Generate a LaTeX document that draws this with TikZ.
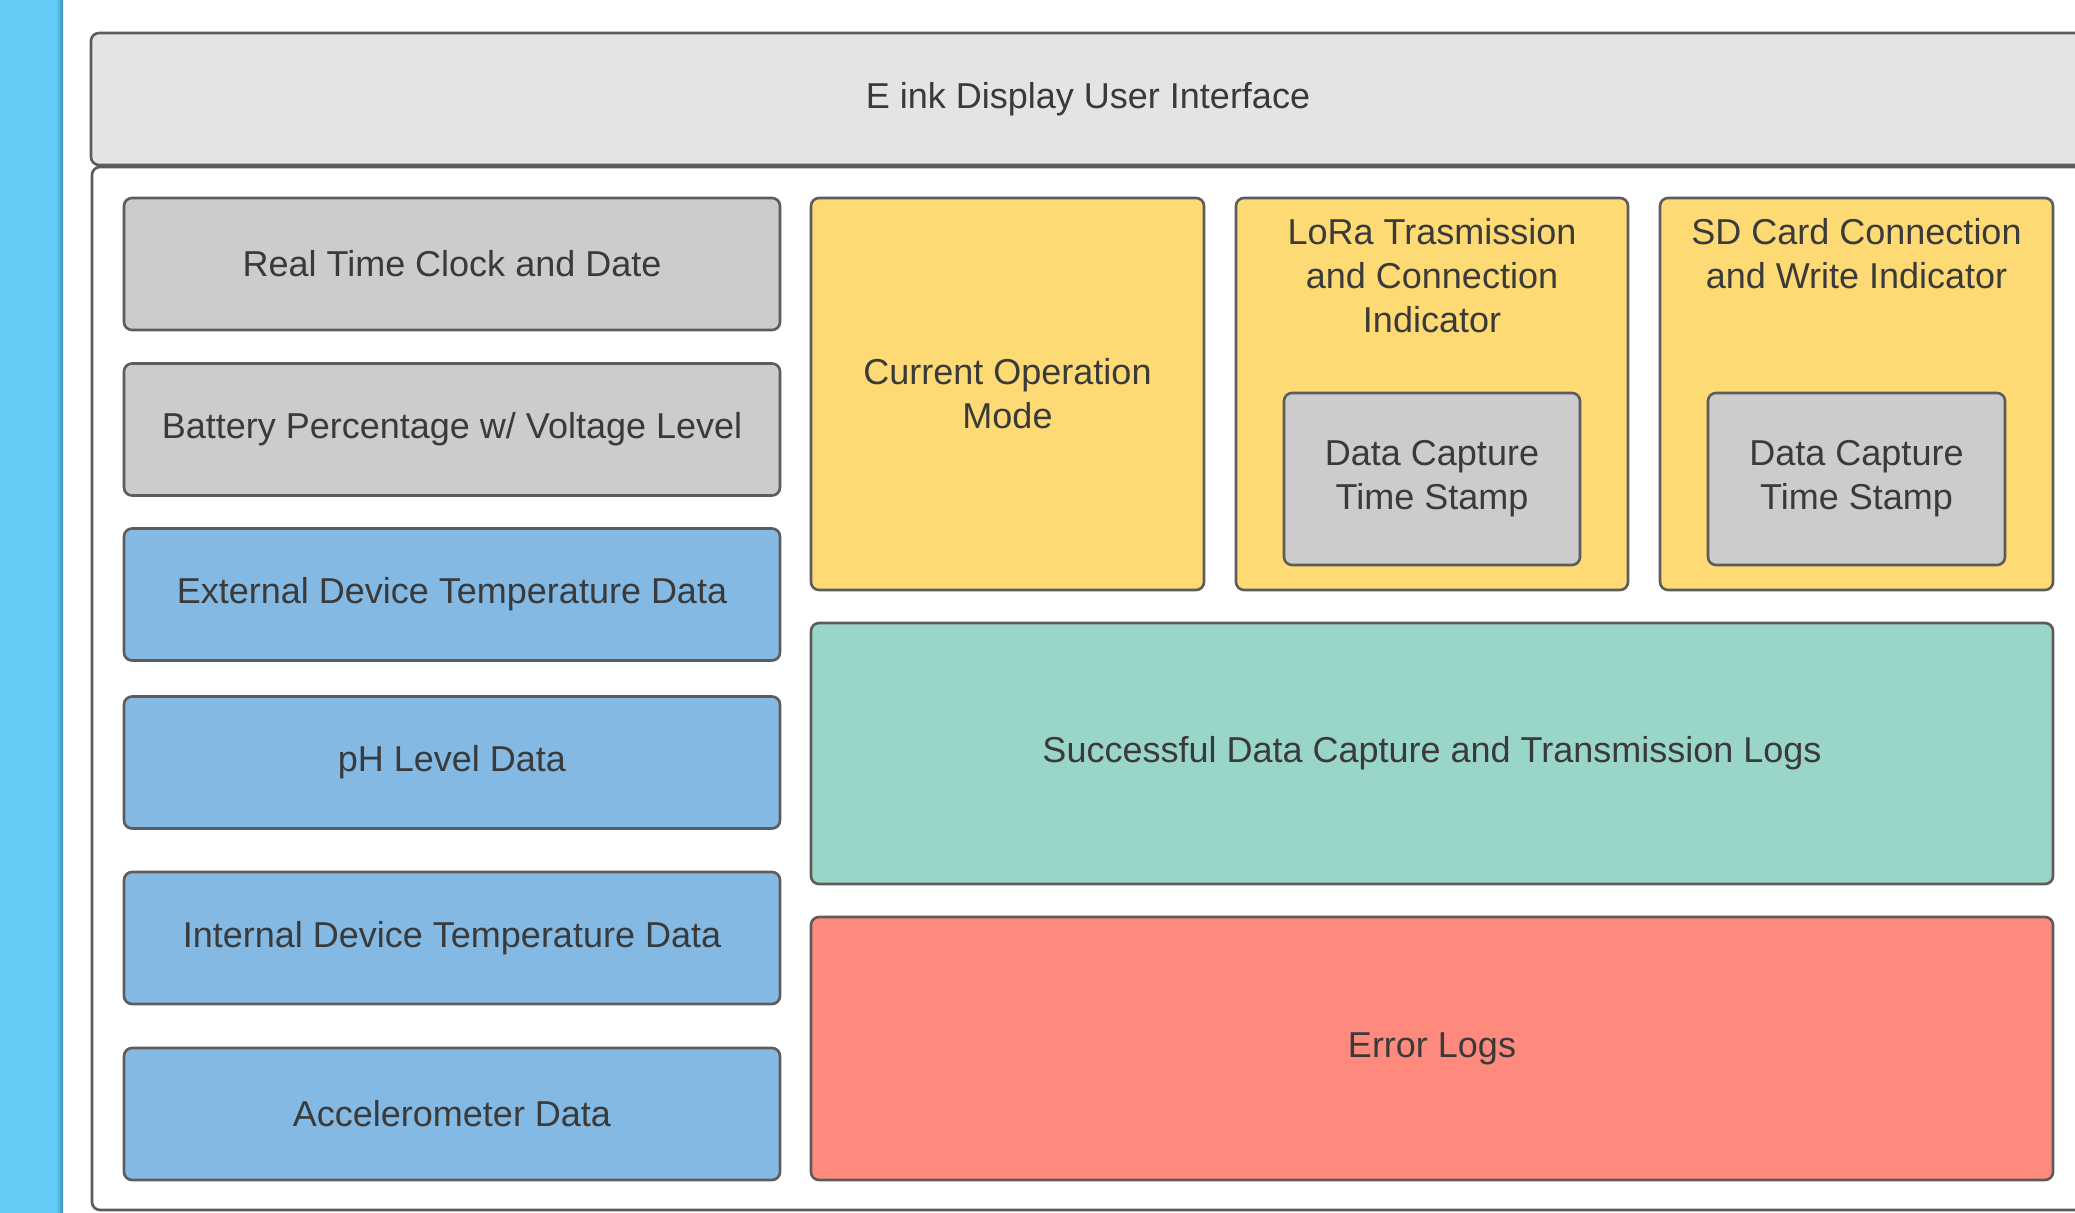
\documentclass[tikz,border=0pt]{standalone}
\usepackage{fontspec}
\setmainfont{Liberation Sans}
\definecolor{stripblue}{HTML}{62CCF6}
\definecolor{stripdark}{HTML}{3B8DB5}
\definecolor{edge}{HTML}{5C5C5C}
\definecolor{txt}{HTML}{3A3A3A}
\definecolor{barfill}{HTML}{E4E4E4}
\definecolor{greyfill}{HTML}{CCCCCC}
\definecolor{bluefill}{HTML}{83B9E3}
\definecolor{yellowfill}{HTML}{FEDA75}
\definecolor{tealfill}{HTML}{9AD5CA}
\definecolor{redfill}{HTML}{FE8A7D}
\begin{document}
\begin{tikzpicture}[x=0.5pt,y=-0.5pt,
  box/.style={draw=edge, line width=1.3pt, rounded corners=4pt, inner sep=0pt,
    text=txt, align=center, font=\fontsize{18}{22}\selectfont},
  lbl/.style={text=txt, align=center, font=\fontsize{18}{22}\selectfont, inner sep=0pt},
  greybox/.style={box, fill=greyfill},
  bluebox/.style={box, fill=bluefill},
  yellowbox/.style={box, fill=yellowfill},
  leftbox/.style={minimum width=328pt, minimum height=66pt}]
\useasboundingbox (0,0) rectangle (2075,1213);
\fill[white] (0,0) rectangle (2075,1213);
\begin{scope}
\clip (0,0) rectangle (2075,1213);
\fill[stripblue] (0,0) rectangle (63,1213);
\shade[left color=stripblue, right color=stripdark] (56,0) rectangle (63,1213);
\node[box, fill=white, minimum width=1001.5pt, minimum height=521.5pt] (frame) at (1093.5,688.5) {};
\node[box, fill=barfill, minimum width=997pt, minimum height=66pt] (bar) at (1088,99) {E ink Display User Interface};
% left column
\node[greybox, leftbox] (rtc) at (452,264) {Real Time Clock and Date};
\node[greybox, leftbox] (batt) at (452,429.5) {Battery Percentage w/ Voltage Level};
\node[bluebox, leftbox] (ext) at (452,594.5) {External Device Temperature Data};
\node[bluebox, leftbox] (ph) at (452,762.5) {pH Level Data};
\node[bluebox, leftbox] (int) at (452,938) {Internal Device Temperature Data};
\node[bluebox, leftbox] (acc) at (452,1114) {Accelerometer Data};
% right section
\node[yellowbox, minimum width=196.5pt, minimum height=196pt] (mode) at (1007.5,394) {Current Operation\\Mode};
\node[yellowbox, minimum width=196pt, minimum height=196pt] (lora) at (1432,394) {};
\node[lbl, anchor=north] (loratext) at (1432,218) {LoRa Trasmission\\and Connection\\Indicator};
\node[greybox, minimum width=148pt, minimum height=86pt] (lorats) at (1432,479) {Data Capture\\Time Stamp};
\node[yellowbox, minimum width=196.5pt, minimum height=196pt] (sd) at (1856.5,394) {};
\node[lbl, anchor=north] (sdtext) at (1856.5,218) {SD Card Connection\\and Write Indicator};
\node[greybox, minimum width=148.5pt, minimum height=86pt] (sdts) at (1856.5,479) {Data Capture\\Time Stamp};
\node[box, fill=tealfill, minimum width=621pt, minimum height=130.5pt] (succ) at (1432,753.5) {Successful Data Capture and Transmission Logs};
\node[box, fill=redfill, minimum width=621pt, minimum height=131.5pt] (err) at (1432,1048.5) {Error Logs};
\end{scope}
\end{tikzpicture}
\end{document}
